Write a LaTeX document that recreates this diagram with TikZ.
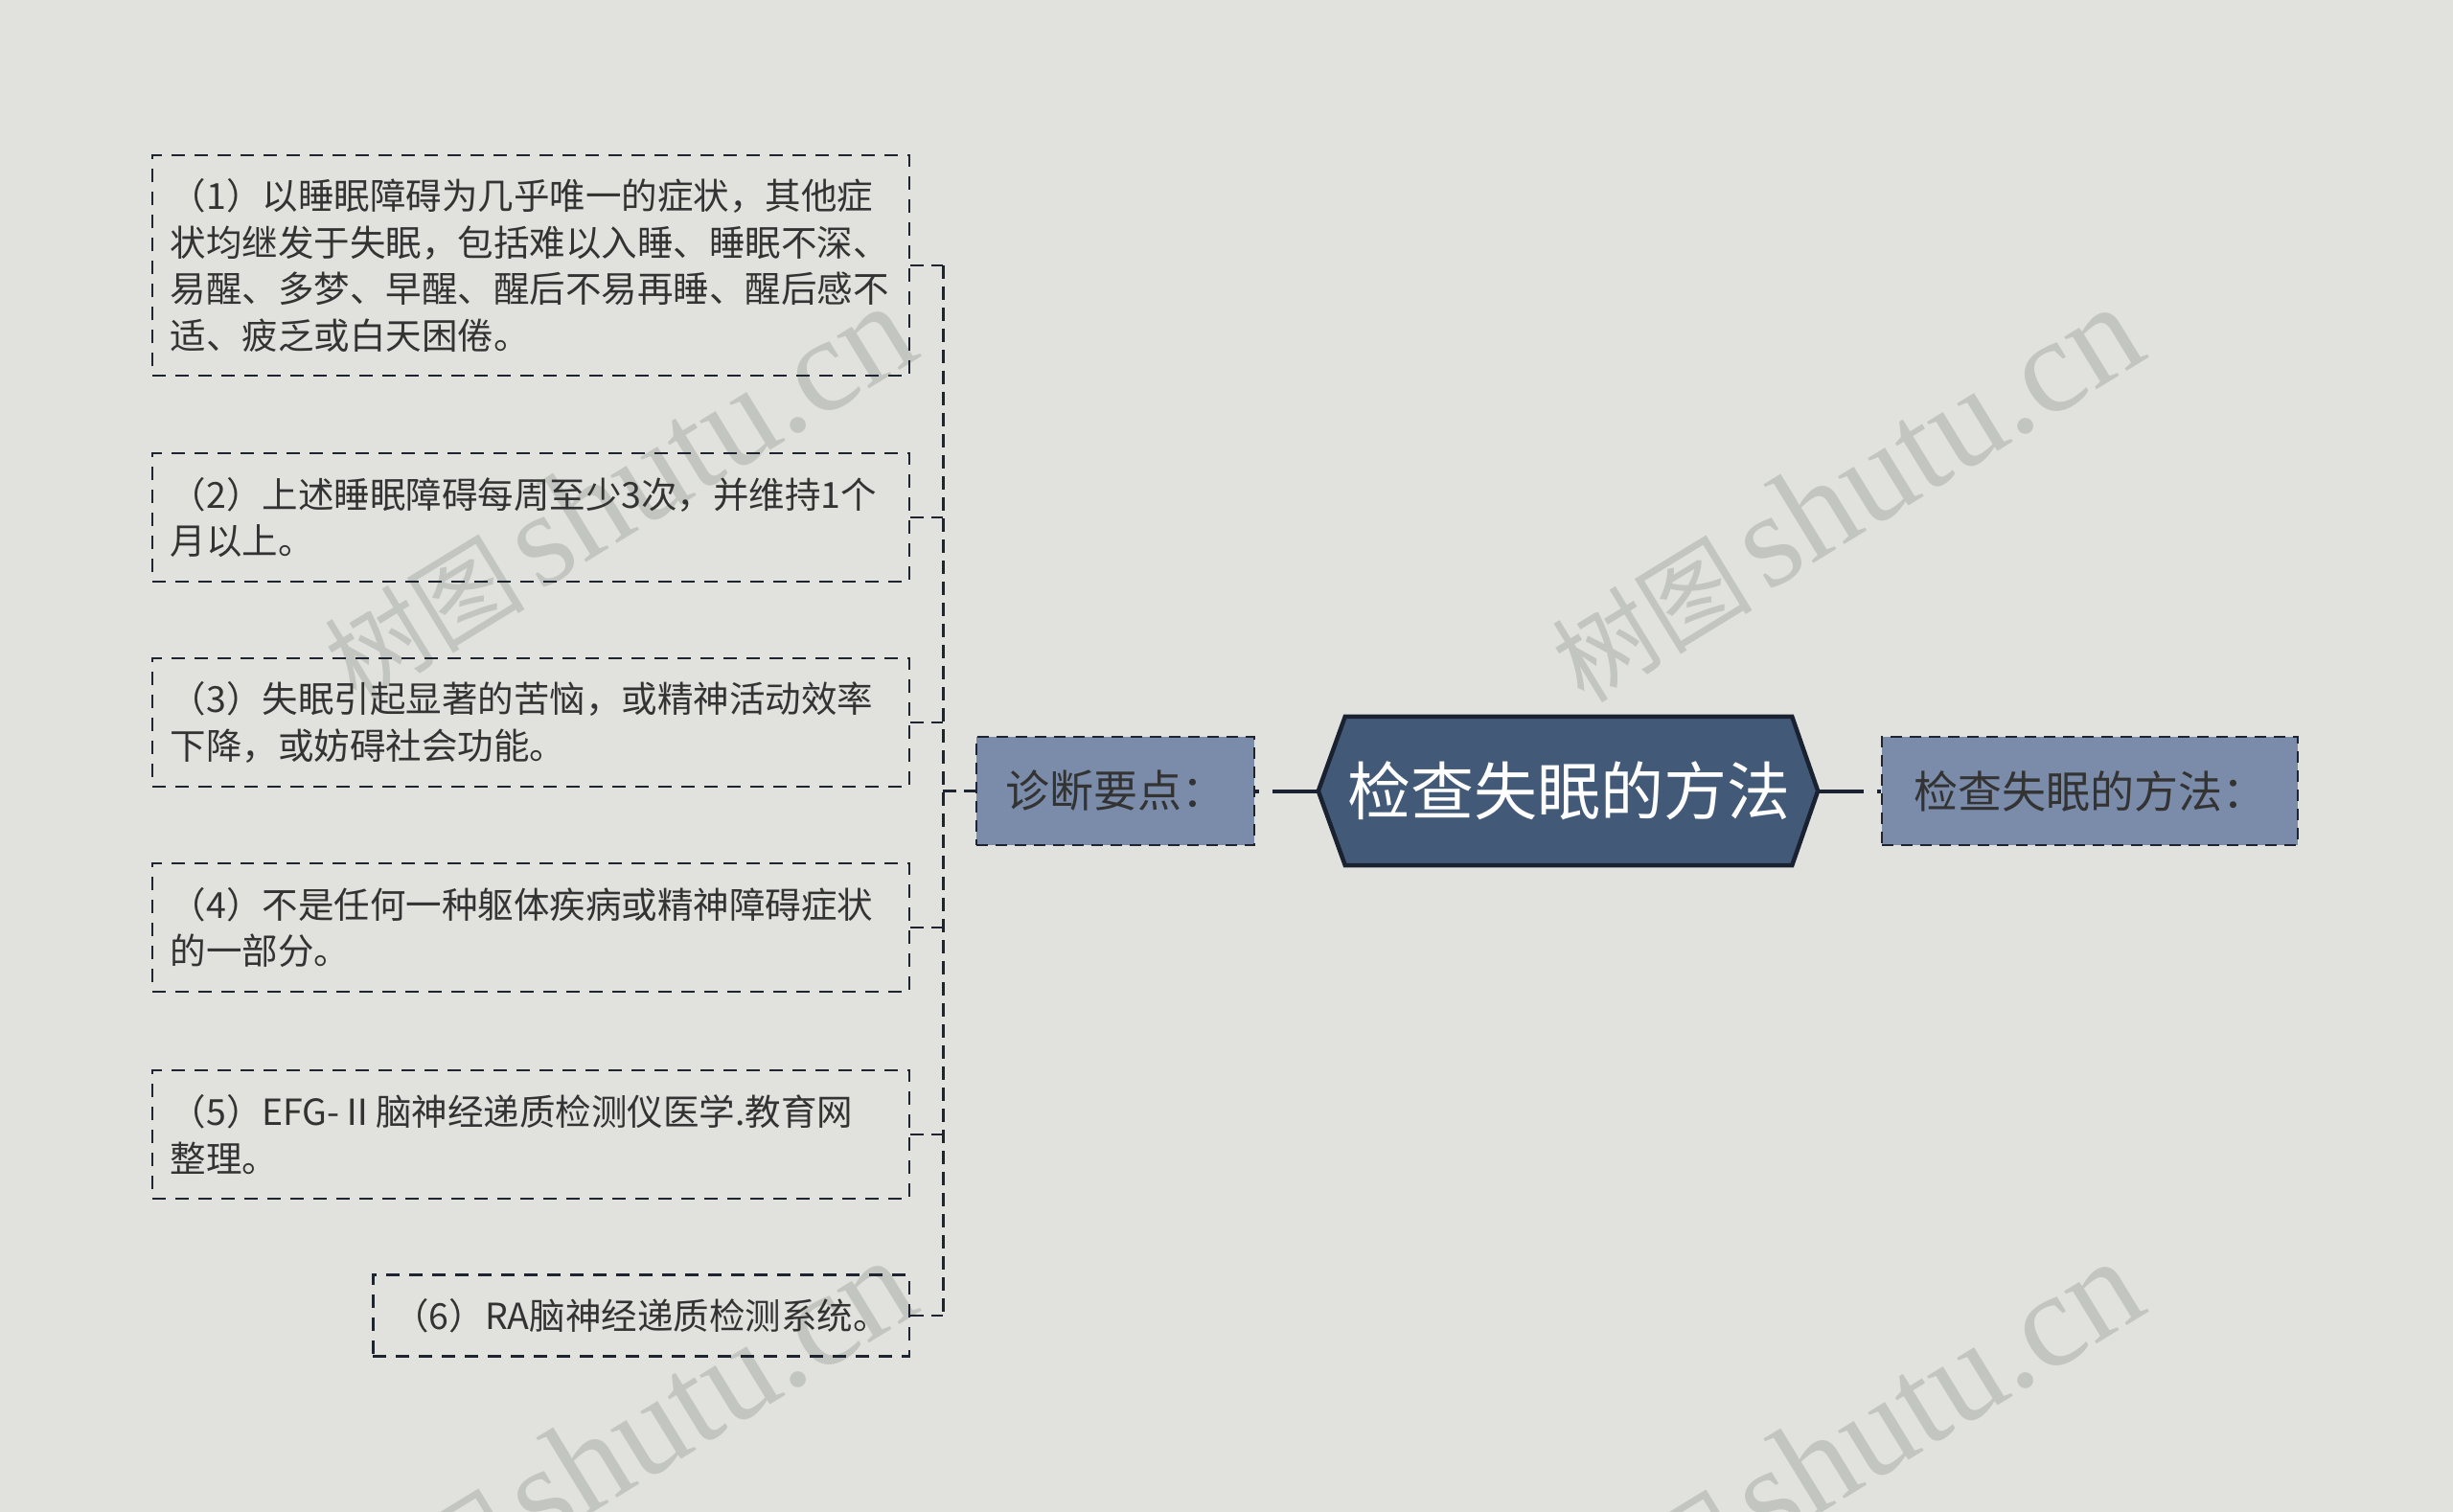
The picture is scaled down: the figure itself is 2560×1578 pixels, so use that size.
\documentclass[tikz,border=0pt]{standalone}
\usepackage{fontspec}
\setmainfont{Noto Sans CJK SC}
\newfontfamily\wmcjk{Noto Sans CJK SC}
\newfontfamily\wmlat{Liberation Serif}
\usetikzlibrary{backgrounds}
\definecolor{bgc}{HTML}{E1E2DD}
\definecolor{mainfill}{HTML}{425977}
\definecolor{mainborder}{HTML}{1A2231}
\definecolor{sidefill}{HTML}{7A8CA9}
\definecolor{txt}{HTML}{333333}
\definecolor{dashc}{HTML}{1E2531}
\definecolor{wmc}{HTML}{C3C5C1}
\begin{document}
\begin{tikzpicture}[x=1pt,y=-1pt,
  leaf/.style={draw=dashc, line width=2.5pt, dash pattern=on 14pt off 10pt,
    text=txt, font=\fontsize{37.5}{48.5}\selectfont, align=left,
    text width=752pt, inner xsep=19pt, inner ysep=0pt, anchor=east},
  leafshort/.style={draw=dashc, line width=2.5pt, dash pattern=on 14pt off 10pt,
    text=txt, font=\fontsize{37.5}{48.5}\selectfont,
    inner xsep=21pt, inner ysep=0pt, anchor=east, minimum height=85pt},
  side/.style={draw=dashc, fill=sidefill, line width=2.5pt, dash pattern=on 12pt off 8pt,
    text=txt, font=\fontsize{46}{46}\selectfont, inner sep=0pt, minimum height=113pt},
  mainbox/.style={text=white, font=\fontsize{66}{66}\selectfont, inner sep=0pt,
    minimum width=466pt, minimum height=155pt},
  conn/.style={draw=mainborder, line width=4pt, dash pattern=on 48pt off 14pt on 8pt off 200pt},
  stub/.style={draw=dashc, line width=2.5pt, dash pattern=on 14pt off 8pt},
  trunk/.style={draw=dashc, line width=3pt, dash pattern=on 14pt off 8pt},
  wm/.style={text=wmc, inner sep=0pt, rotate=31.5}
]
\useasboundingbox (0,0) rectangle (2560,1578);

% leaf boxes
\node[leaf, minimum height=230pt] (b1) at (950,277) {（1）以睡眠障碍为几乎唯一的症状，其他症\\状均继发于失眠，包括难以入睡、睡眠不深、\\易醒、多梦、早醒、醒后不易再睡、醒后感不\\适、疲乏或白天困倦。};
\node[leaf, minimum height=134pt] (b2) at (950,540) {（2）上述睡眠障碍每周至少3次，并维持1个\\月以上。};
\node[leaf, minimum height=134pt] (b3) at (950,754) {（3）失眠引起显著的苦恼，或精神活动效率\\下降，或妨碍社会功能。};
\node[leaf, minimum height=134pt] (b4) at (950,968) {（4）不是任何一种躯体疾病或精神障碍症状\\的一部分。};
\node[leaf, minimum height=134pt] (b5) at (950,1184) {（5）EFG-Ⅱ脑神经递质检测仪医学.教育网\\整理。};
\node[leafshort] (b6) at (950,1373) {（6）RA脑神经递质检测系统。};

% side nodes
\node[side, minimum width=290pt] (diag) at (1164,825.5) {诊断要点：};
\node[side, minimum width=434pt] (meth) at (2181,825.5) {检查失眠的方法：};

% main node
\node[mainbox] (main) at (1637,825.5) {检查失眠的方法};
\coordinate (mL) at ([xshift=-28pt]main.west);
\coordinate (mR) at ([xshift=27pt]main.east);

% trunk
\coordinate (tx) at (984,825.5);
\draw[trunk] (tx |- b1.east) -- (tx |- b6.east);
\foreach \b in {b1,b2,b3,b4,b5,b6}{
  \draw[stub] (\b.east) -- (tx |- \b.east);
}
\draw[stub] (tx) -- (diag.west);

% main connectors
\draw[conn] (mL) -- (diag.east);
\draw[conn] (mR) -- (meth.west);

\begin{scope}[on background layer]
  \fill[bgc] (0,0) rectangle (2560,1578);
  \begin{scope}
    \clip (0,0) rectangle (2560,1578);
    \foreach \p/\n in {{(645,515)}/wa,{(1926,516)}/wb,{(645,1511)}/wc,{(1926,1512)}/wd}{
      \node[wm] (\n) at \p {{\wmcjk\fontsize{105}{105}\selectfont 树图}\hspace{14pt}{\wmlat\fontsize{140}{140}\selectfont shutu.cn}};
    }
  \end{scope}
  \draw[fill=mainfill, draw=mainborder, line width=4.5pt, line join=miter]
    (main.north west) -- (main.north east) -- (mR) -- (main.south east)
    -- (main.south west) -- (mL) -- cycle;
\end{scope}
\end{tikzpicture}
\end{document}
